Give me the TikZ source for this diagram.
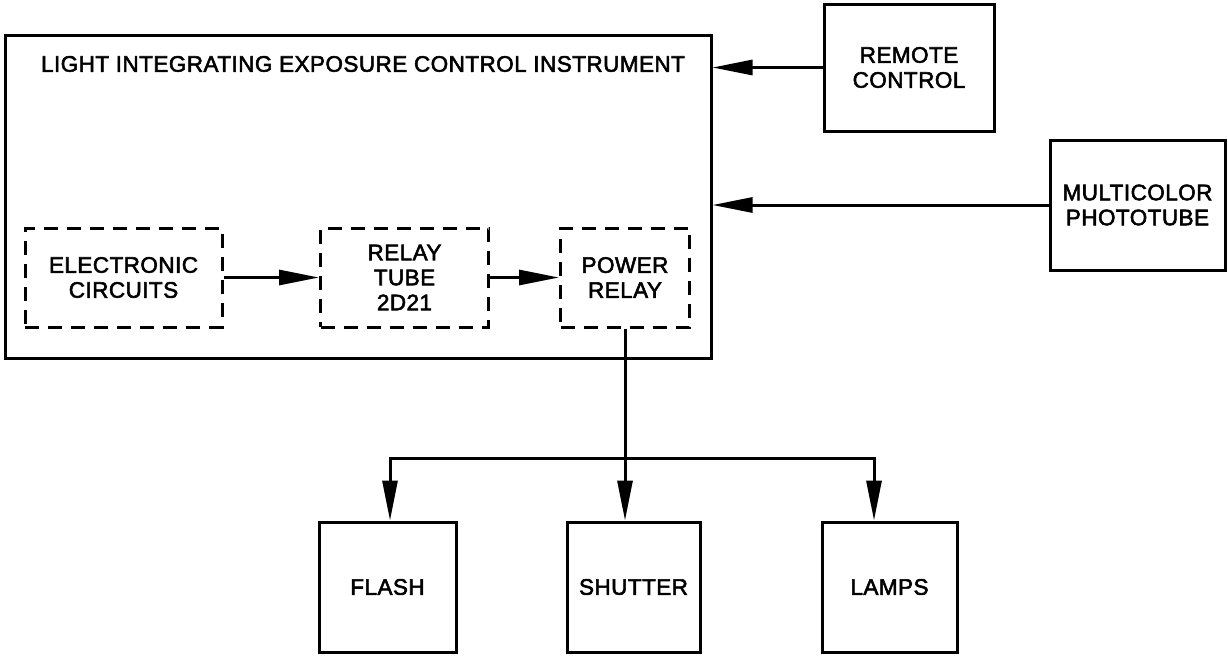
\documentclass[tikz,border=0pt]{standalone}
\usepackage{fontspec}
\setmainfont{Liberation Sans}[FakeBold=2.4, LetterSpace=2]
\usetikzlibrary{arrows.meta}
\begin{document}
\begin{tikzpicture}[x=1pt,y=-1pt,
  every node/.style={font=\fontsize{22.5}{25}\selectfont, align=center, inner sep=0pt},
  solidbox/.style={draw, line width=3pt, rectangle},
  dashbox/.style={draw, line width=3pt, rectangle, dash pattern=on 14pt off 9pt},
  arr/.style={line width=3pt, -{Triangle[length=40pt,width=15pt]}},
  wire/.style={line width=3pt}
]
\useasboundingbox (0,0) rectangle (1228,657);
\fill[white] (0,0) rectangle (1228,657);

\node[solidbox, minimum width=706pt, minimum height=323pt] (main) at (358,196.5) {};
\node (title) at (363,64) {LIGHT INTEGRATING EXPOSURE CONTROL INSTRUMENT};

\node[solidbox, minimum width=170pt, minimum height=127pt] (remote) at (909,67.5) {REMOTE\\CONTROL};
\node[solidbox, minimum width=175pt, minimum height=130pt] (photo) at (1137.5,205) {MULTICOLOR\\PHOTOTUBE};

\node[dashbox, minimum width=197pt, minimum height=99pt] (elec) at (123.5,277.5) {ELECTRONIC\\CIRCUITS};
\node[dashbox, minimum width=168pt, minimum height=99pt] (tube) at (404.5,277.5) {RELAY\\TUBE\\2D21};
\node[dashbox, minimum width=129pt, minimum height=99pt] (power) at (625,277.5) {POWER\\RELAY};

\node[solidbox, minimum width=137pt, minimum height=130pt] (flash) at (387.5,587) {FLASH};
\node[solidbox, minimum width=133pt, minimum height=130pt] (shutter) at (633.5,587) {SHUTTER};
\node[solidbox, minimum width=135pt, minimum height=130pt] (lamps) at (889.5,587) {LAMPS};

\draw[arr] (remote.west) -- (remote.west -| main.east);
\draw[arr] (photo.west) -- (photo.west -| main.east);
\draw[arr] (elec.east) -- (tube.west);
\draw[arr] (tube.east) -- (power.west);

\coordinate (j) at (power.south |- 0,458);
\draw[arr] (power.south) -- (power.south |- shutter.north);
\draw[arr] (j) -| ([xshift=2.5pt]flash.north);
\draw[arr] (j) -| ([xshift=-15.5pt]lamps.north);
\end{tikzpicture}
\end{document}
